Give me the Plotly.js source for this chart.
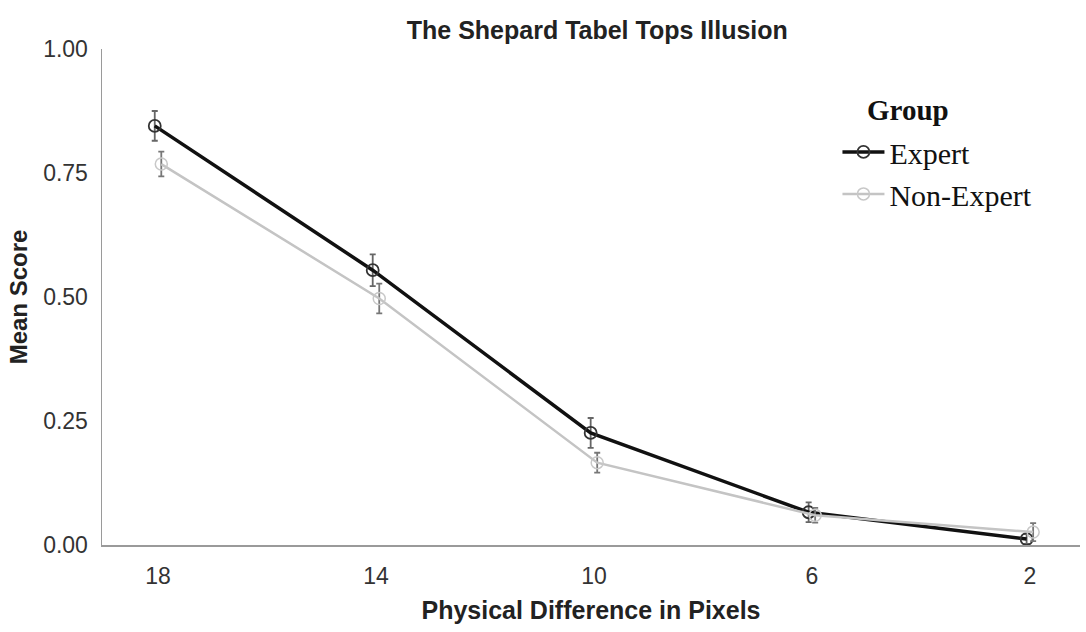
<!DOCTYPE html>
<html>
<head>
<meta charset="utf-8">
<script src="https://cdn.plot.ly/plotly-3.0.1.min.js"></script>
<style>html,body{margin:0;padding:0;background:#fff;}#chart{width:1086px;height:632px;}</style>
</head>
<body>
<div id="chart"></div>
<script>
const categories = ["18", "14", "10", "6", "2"];
const expertMean = [0.845, 0.554, 0.226, 0.066, 0.012];
const expertErr = [0.03, 0.032, 0.03, 0.02, 0.01];
const nonExpertMean = [0.768, 0.497, 0.166, 0.06, 0.026];
const nonExpertErr = [0.025, 0.03, 0.02, 0.015, 0.018];
const yTicks = [0, 0.25, 0.5, 0.75, 1];
const yTickText = ["0.00", "0.25", "0.50", "0.75", "1.00"];
const legendTitle = "Group";

const traces = [
  {
    type: "scatter", mode: "lines+markers", name: "Expert",
    x: categories, y: expertMean,
    error_y: {type: "data", array: expertErr, visible: true, color: "#666", thickness: 1.8, width: 3},
    line: {color: "#111", width: 3.5},
    marker: {symbol: "circle-open", size: 12, color: "#333", line: {width: 1.8, color: "#333"}}
  },
  {
    type: "scatter", mode: "lines+markers", name: "Non-Expert",
    x: categories, y: nonExpertMean,
    error_y: {type: "data", array: nonExpertErr, visible: true, color: "#777", thickness: 1.8, width: 3},
    line: {color: "#c4c4c4", width: 2.5},
    marker: {symbol: "circle-open", size: 12, color: "#c8c8c8", line: {width: 1.5, color: "#c8c8c8"}}
  }
];

const layout = {
  width: 1086, height: 632,
  margin: {l: 102, r: 6, t: 49, b: 87},
  paper_bgcolor: "#fff", plot_bgcolor: "#fff",
  scattermode: "group", scattergap: 0.94,
  showlegend: true,
  font: {family: "Liberation Sans, Arial, sans-serif", color: "#222"},
  title: {text: "<b>The Shepard Tabel Tops Illusion</b>", font: {size: 25, color: "#222"}, x: 0.55, xanchor: "center", y: 0.952, yanchor: "middle"},
  xaxis: {
    type: "category", categoryorder: "array", categoryarray: categories,
    range: [-0.257, 4.23],
    showgrid: false, zeroline: false, showline: true, linecolor: "#9a9a9a", linewidth: 1.5,
    ticks: "", ticklabelstandoff: 10, tickfont: {size: 23, color: "#333"},
    title: {text: "<b>Physical Difference in Pixels</b>", font: {size: 25, color: "#222"}, standoff: 13}
  },
  yaxis: {
    range: [0, 1], tickvals: yTicks, ticktext: yTickText,
    showgrid: false, zeroline: false, showline: true, linecolor: "#9a9a9a", linewidth: 1.5,
    ticks: "", ticklen: 0, ticklabelstandoff: 8, tickfont: {size: 23, color: "#333"},
    title: {text: "<b>Mean Score</b>", font: {size: 24, color: "#222"}, standoff: 8}
  },
  legend: {
    x: 0.752, y: 0.845, xanchor: "left", yanchor: "top",
    bgcolor: "rgba(0,0,0,0)",
    font: {family: "Liberation Serif, Times New Roman, serif", size: 30, color: "#111"},
    itemwidth: 42, tracegroupgap: 4
  },
  annotations: [{
    text: "<b>" + legendTitle + "</b>", xref: "paper", yref: "paper",
    x: 0.78, y: 0.877, xanchor: "left", yanchor: "middle", showarrow: false,
    font: {family: "Liberation Serif, Times New Roman, serif", size: 29, color: "#111"}
  }]
};

Plotly.newPlot("chart", traces, layout, {displayModeBar: false, staticPlot: true});
</script>
</body>
</html>
